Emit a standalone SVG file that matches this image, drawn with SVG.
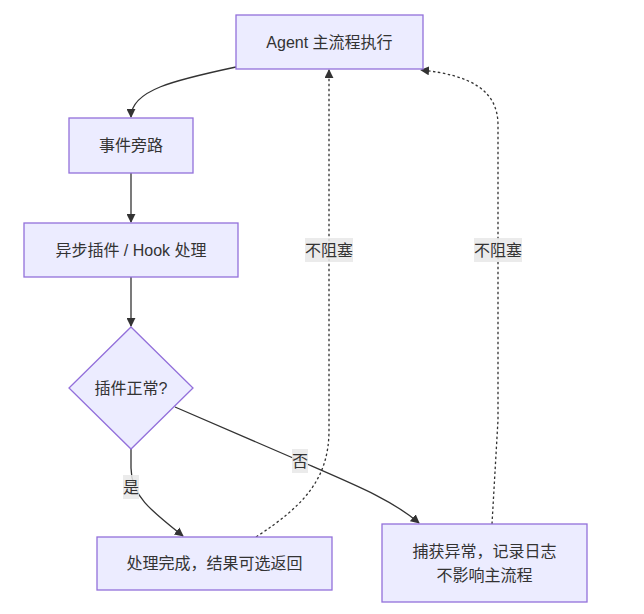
<svg xmlns="http://www.w3.org/2000/svg" width="644" height="614" viewBox="0 0 644 614">
<style>
.node rect,.node polygon{fill:#ECECFF;stroke:#9370DB;stroke-width:1.3}
text{font-family:"Liberation Sans","Noto Sans CJK SC",sans-serif;font-size:16px;fill:#333;text-anchor:middle;dominant-baseline:central}
.edge{fill:none;stroke:#333;stroke-width:1.3}
.dot{stroke-dasharray:2.5 2.5}
.lbl rect{fill:#e8e8e8;opacity:0.85}
</style>
<defs>
<marker id="arr" viewBox="0 0 10 10" refX="9" refY="5" markerWidth="9" markerHeight="9" markerUnits="userSpaceOnUse" orient="auto">
<path d="M0,0 L10,5 L0,10 z" fill="#333"/>
</marker>
</defs>
<rect width="644" height="614" fill="#fff"/>
<g id="edges">
<path class="edge" d="M236,67 C175,80 131,90 131,117" marker-end="url(#arr)"/>
<path class="edge" d="M131,173 L131,222" marker-end="url(#arr)"/>
<path class="edge" d="M131,277 L131,326" marker-end="url(#arr)"/>
<path class="edge" d="M131,449 L131,468 C131,495 150,510 183,536" marker-end="url(#arr)"/>
<path class="edge" d="M175,407 L300,461 C360,487 392,500 419,523" marker-end="url(#arr)"/>
<path class="edge dot" d="M256,537 C305,505 329,478 329,430 L329,70" marker-end="url(#arr)"/>
<path class="edge dot" d="M492,524 L498,420 L498,125 C498,90 470,75 421,70" marker-end="url(#arr)"/>
<g class="lbl"><rect x="305" y="238" width="48" height="24"/><text x="329" y="250">不阻塞</text></g>
<g class="lbl"><rect x="474" y="238" width="48" height="24"/><text x="498" y="250">不阻塞</text></g>
<g class="lbl"><rect x="292" y="449" width="16" height="24"/><text x="300" y="461">否</text></g>
<g class="lbl"><rect x="123" y="475" width="16" height="24"/><text x="131" y="487">是</text></g>
</g>
<g id="A" class="node"><rect x="236" y="15" width="187" height="54"/><text x="329.5" y="42">Agent 主流程执行</text></g>
<g id="B" class="node"><rect x="69" y="118" width="124" height="55"/><text x="131" y="145.5">事件旁路</text></g>
<g id="C" class="node"><rect x="24" y="223" width="214" height="54"/><text x="131" y="250">异步插件 / Hook 处理</text></g>
<g id="D" class="node"><polygon points="131,327 193,388 131,449 69,388"/><text x="131" y="388">插件正常?</text></g>
<g id="E" class="node"><rect x="97" y="537" width="235" height="53"/><text x="214.5" y="563.5">处理完成，结果可选返回</text></g>
<g id="F" class="node"><rect x="382" y="524" width="205" height="78"/><text x="484.5" y="551">捕获异常，记录日志</text><text x="484.5" y="575">不影响主流程</text></g>
</svg>
